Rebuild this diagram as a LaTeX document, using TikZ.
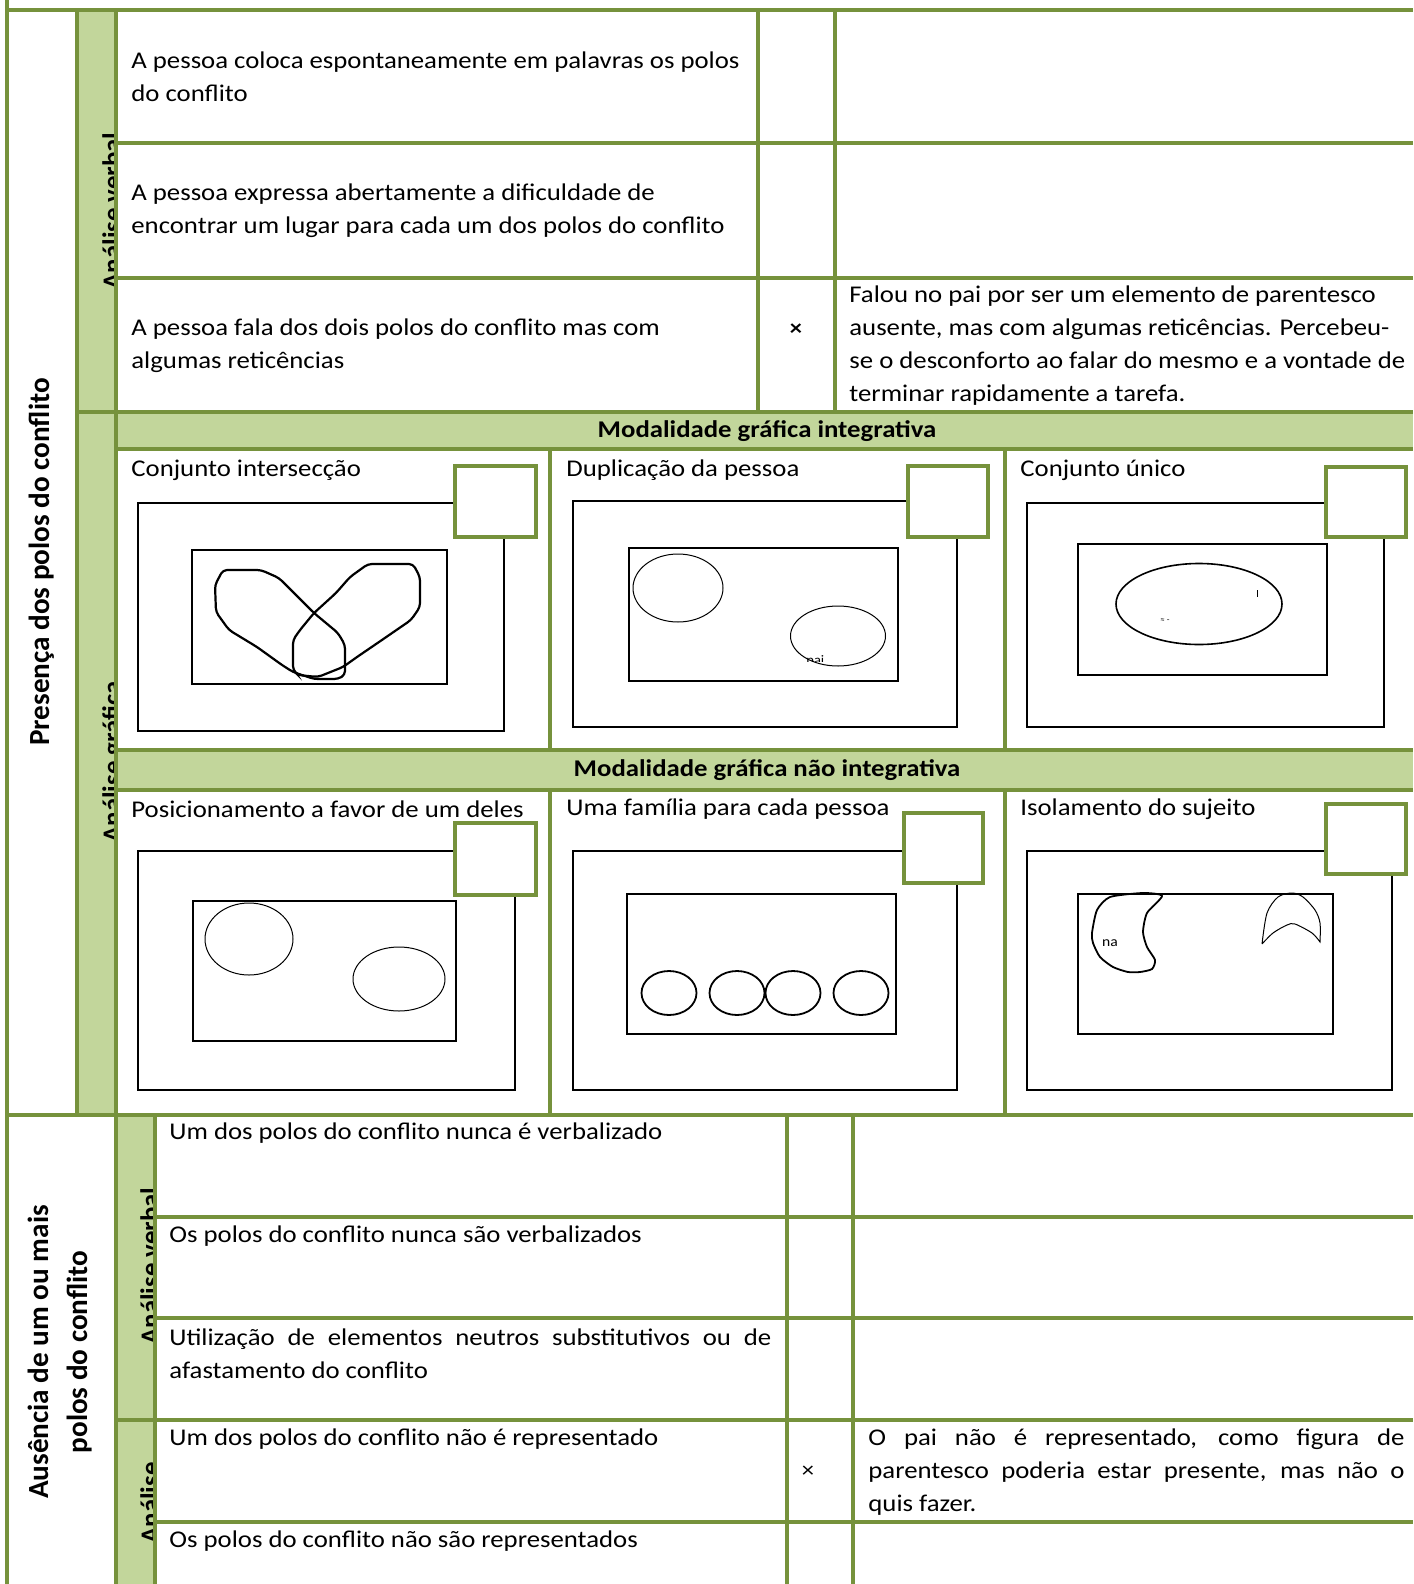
\documentclass[tikz,border=0pt]{standalone}
\usepackage{fontspec}
\setmainfont{Carlito}[FakeStretch=1.115]
\newfontfamily\rotfont{Carlito}
\definecolor{gline}{HTML}{76923C}
\definecolor{gfill}{HTML}{C2D69B}
\begin{document}
\begin{tikzpicture}[x=0.5pt,y=-0.5pt,
  gl/.style={draw=gline,line width=1.6pt},
  txt/.style={anchor=west,inner sep=0pt,align=left,font=\fontsize{12}{16.5}\selectfont},
  hdr/.style={inner sep=0pt,font=\fontsize{12}{16.5}\selectfont\bfseries},
  vlab/.style={rotate=90,inner sep=0pt,font=\rotfont\fontsize{14.6}{19.5}\selectfont\bfseries,align=center},
  glab/.style={rotate=90,inner sep=0pt,font=\rotfont\fontsize{13.4}{16}\selectfont\bfseries,anchor=base},
  frame/.style={draw=black,line width=1.1pt},
  gsq/.style={draw=gline,line width=2.2pt,fill=white},
  thinline/.style={draw=black,line width=0.5pt},
  xmk/.style={inner sep=0pt,font=\fontsize{11}{13}\selectfont}
]
\useasboundingbox (0,0) rectangle (1413,1584);
\fill[white] (0,0) rectangle (1413,1584);
% ---------- fills
\fill[gfill] (77,10) rectangle (116,1115);
\fill[gfill] (116,1115) rectangle (155,1584);
\fill[gfill] (116,412) rectangle (1413,449);
\fill[gfill] (116,750) rectangle (1413,790);
% ---------- clipped labels in green columns
\begin{scope}
\clip (77,10) rectangle (116,1115);
\node[glab] (av1) at (121,211) {Análise verbal};
\node[glab] (ag1) at (121,762) {Análise gráfica};
\end{scope}
\begin{scope}
\clip (116,1115) rectangle (155,1584);
\node[glab] (av2) at (159,1266) {Análise verbal};
\node[glab] (ag2) at (159,1503) {Análise};
\end{scope}
% ---------- grid lines
\draw[gl] (7,0) -- (7,1584);
\draw[gl] (7,10) -- (1413,10);
\draw[gl] (77,10) -- (77,1115);
\draw[gl] (116,10) -- (116,1584);
\draw[gl] (758,10) -- (758,412);
\draw[gl] (835,10) -- (835,412);
\draw[gl] (116,143) -- (1413,143);
\draw[gl] (116,278) -- (1413,278);
\draw[gl] (77,412) -- (1413,412);
\draw[gl] (116,449) -- (1413,449);
\draw[gl] (550,449) -- (550,750);
\draw[gl] (1005,449) -- (1005,750);
\draw[gl] (116,750) -- (1413,750);
\draw[gl] (116,790) -- (1413,790);
\draw[gl] (550,790) -- (550,1115);
\draw[gl] (1005,790) -- (1005,1115);
\draw[gl] (7,1115) -- (1413,1115);
\draw[gl] (155,1115) -- (155,1584);
\draw[gl] (787,1115) -- (787,1584);
\draw[gl] (853,1115) -- (853,1584);
\draw[gl] (155,1217) -- (1413,1217);
\draw[gl] (155,1318) -- (1413,1318);
\draw[gl] (116,1420) -- (1413,1420);
\draw[gl] (155,1522) -- (1413,1522);
% ---------- rotated category labels
\node[vlab] (pres) at (42,562) {Presença dos polos do conflito};
\node[vlab] (aus) at (60,1352) {Ausência de um ou mais\\polos do conflito};
% ---------- top verbal rows
\node[txt] (t1) at (131,77) {A pessoa coloca espontaneamente em palavras os polos\\do conflito};
\node[txt] (t2) at (131,211) {A pessoa expressa abertamente a dificuldade de\\encontrar um lugar para cada um dos polos do conflito};
\node[txt] (t3) at (131,346) {A pessoa fala dos dois polos do conflito mas com\\algumas reticências};
\node[xmk,font=\fontsize{11}{13}\selectfont\bfseries] (x1) at (796,330) {×};
\node[txt] (c3) at (849,346) {Falou no pai por ser um elemento de parentesco\\ausente, mas com algumas reticências. Percebeu-\\se o desconforto ao falar do mesmo e a vontade de\\terminar rapidamente a tarefa.};
% ---------- bands
\node[hdr] (b1) at (767,431) {Modalidade gráfica integrativa};
\node[hdr] (b2) at (767,770) {Modalidade gráfica não integrativa};
% ---------- panel labels
\node[txt] (l1) at (131,470) {Conjunto intersecção};
\node[txt] (l2) at (566,470) {Duplicação da pessoa};
\node[txt] (l3) at (1020,470) {Conjunto único};
\node[txt] (l4) at (131,809) {Posicionamento a favor de um deles};
\node[txt] (l5) at (566,809) {Uma família para cada pessoa};
\node[txt] (l6) at (1020,809) {Isolamento do sujeito};
% ---------- panel 1: intersection
\draw[frame] (138,503) rectangle (504,731);
\draw[frame] (192,550) rectangle (447,684);
\draw[gsq] (455,466) rectangle (536,537);
\draw[black,line width=1.1pt,rounded corners=2pt] (223,570) -- (261,570) -- (279,578) -- (314,613) -- (338,633) -- (345,645) -- (345,675) -- (338,679) -- (314,679) -- (293,672) -- (282,665) -- (257,647) -- (229,630) -- (216,612) -- (215,585) -- cycle;
\draw[black,line width=1.1pt,rounded corners=2pt] (368,564) -- (413,564) -- (420,577) -- (420,607) -- (411,620) -- (379,642) -- (357,657) -- (343,667) -- (318,677) -- (298,675) -- (293,670) -- (293,640) -- (300,630) -- (314,613) -- (336,593) -- (350,577) -- cycle;
% ---------- panel 2: duplication
\draw[frame] (573,501) rectangle (957,727);
\draw[frame] (629,548) rectangle (898,681);
\draw[gsq] (908,466) rectangle (988,537);
\draw[thinline] (678,588) ellipse [x radius=45, y radius=34];
\begin{scope}
\clip (790,640) rectangle (840,661);
\node[inner sep=0pt,anchor=base west,font=\fontsize{6.5}{7}\selectfont] (pai) at (806,664) {pai};
\end{scope}
\draw[thinline] (838,636) ellipse [x radius=47.5, y radius=30];
% ---------- panel 3: single set
\draw[frame] (1027,503) rectangle (1384,727);
\draw[frame] (1078,544) rectangle (1327,675);
\draw[gsq] (1326,467) rectangle (1406,537);
\draw[black,line width=0.8pt] (1199,604) ellipse [x radius=83, y radius=40.5];
\draw[black,line width=0.4pt] (1257,590) -- (1257,597);
\node[inner sep=0pt,font=\fontsize{4}{5}\selectfont] (tm) at (1165,621) {≈ -};
% ---------- panel 4: positioning
\draw[frame] (138,851) rectangle (515,1090);
\draw[frame] (193,901) rectangle (456,1041);
\draw[gsq] (455,823) rectangle (536,895);
\draw[thinline] (249,939) ellipse [x radius=44, y radius=36];
\draw[thinline] (399,979) ellipse [x radius=46, y radius=32];
% ---------- panel 5: one family each
\draw[frame] (573,851) rectangle (957,1090);
\draw[frame] (627,894) rectangle (896,1034);
\draw[gsq] (904,813) rectangle (983,883);
\foreach \cx in {669,737,793,861} \draw[black,line width=0.9pt] (\cx,993) ellipse [x radius=27.5, y radius=22];
% ---------- panel 6: isolation
\draw[frame] (1027,851) rectangle (1392,1090);
\draw[frame] (1078,894) rectangle (1333,1034);
\draw[gsq] (1326,804) rectangle (1406,874);
\draw[black,line width=0.9pt] plot[smooth cycle,tension=0.4] coordinates {(1110,897) (1143,893) (1162,896) (1147,913) (1143,932) (1147,947) (1155,960) (1152,969) (1140,972) (1128,972) (1113,967) (1100,957) (1093,943) (1092,933) (1097,910)};
\node[inner sep=0pt,font=\fontsize{7}{8}\selectfont] (na) at (1110,943) {na};
\draw[black,line width=0.5pt] plot[smooth,tension=0.5] coordinates {(1262,944) (1267,913) (1278,897) (1292,893) (1303,897) (1315,910) (1320,923) (1320,942)} -- plot[smooth,tension=0.5] coordinates {(1320,942) (1312,933) (1295,924) (1287,925) (1273,933) (1262,944)};
% ---------- bottom section
\node[txt] (u1) at (169,1133) {Um dos polos do conflito nunca é verbalizado};
\node[txt] (u2) at (169,1236) {Os polos do conflito nunca são verbalizados};
\node[txt] (u3) at (169,1354) {\makebox[301pt][s]{Utilização de elementos neutros substitutivos ou de}\\afastamento do conflito};
\node[txt] (u4) at (169,1439) {Um dos polos do conflito não é representado};
\node[xmk] (x2) at (808,1472) {×};
\node[txt] (c4) at (868,1472) {\makebox[268pt][s]{O pai não é representado, como figura de}\\\makebox[268pt][s]{parentesco poderia estar presente, mas não o}\\quis fazer.};
\node[txt] (u5) at (169,1541) {Os polos do conflito não são representados};
\end{tikzpicture}
\end{document}
